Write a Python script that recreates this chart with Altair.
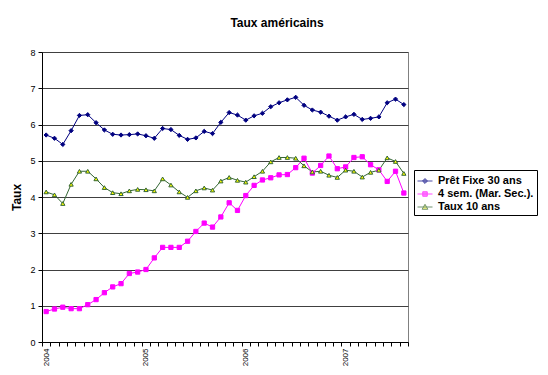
import altair as alt
import pandas as pd

mois = [f"{y}-{m:02d}" for y in range(2004, 2008) for m in range(1, 13)][:44]

series = ["Prêt Fixe 30 ans", "4 sem. (Mar. Sec.).", "Taux 10 ans"]

pret_30 = [5.71, 5.62, 5.45, 5.83, 6.25, 6.27, 6.05, 5.85, 5.73, 5.71,
           5.72, 5.74, 5.69, 5.62, 5.89, 5.86, 5.70, 5.59, 5.63, 5.81,
           5.75, 6.06, 6.33, 6.26, 6.12, 6.24, 6.31, 6.49, 6.60, 6.68,
           6.75, 6.53, 6.40, 6.34, 6.23, 6.12, 6.21, 6.28, 6.14, 6.17,
           6.21, 6.60, 6.70, 6.55]
sem_4 = [0.84, 0.91, 0.96, 0.92, 0.92, 1.03, 1.17, 1.36, 1.52, 1.61,
         1.89, 1.93, 2.00, 2.32, 2.61, 2.61, 2.61, 2.78, 3.05, 3.28,
         3.17, 3.45, 3.84, 3.63, 4.04, 4.32, 4.47, 4.53, 4.61, 4.62,
         4.81, 5.07, 4.66, 4.87, 5.13, 4.78, 4.83, 5.09, 5.11, 4.89,
         4.75, 4.43, 4.71, 4.11]
taux_10 = [4.14, 4.06, 3.82, 4.35, 4.71, 4.71, 4.50, 4.26, 4.12, 4.09,
           4.17, 4.21, 4.20, 4.17, 4.50, 4.33, 4.14, 3.99, 4.17, 4.25,
           4.19, 4.44, 4.54, 4.46, 4.41, 4.56, 4.71, 4.97, 5.09, 5.09,
           5.07, 4.86, 4.69, 4.71, 4.60, 4.54, 4.74, 4.71, 4.55, 4.68,
           4.74, 5.08, 4.98, 4.65]

rows = []
for name, vals in zip(series, [pret_30, sem_4, taux_10]):
    for i, v in enumerate(vals):
        rows.append({"idx": i, "mois": mois[i], "serie": name, "taux": v})
df = pd.DataFrame(rows)

line_colors = ["#000080", "#ff00ff", "#336633"]
fill_colors = ["#000080", "#ff00ff", "#ffff00"]
stroke_colors = ["#000080", "#ff00ff", "#336633"]

FONT = "Liberation Sans"

x_enc = alt.X(
    "idx:Q",
    scale=alt.Scale(domain=[-0.5, 43.5], nice=False, zero=False),
    axis=alt.Axis(
        values=[i - 0.5 for i in range(45)],
        labelExpr="(datum.value + 0.5) % 12 == 0 ? toString(2004 + (datum.value + 0.5) / 12) : ''",
        labelAngle=-90,
        labelOffset=4,
        labelFlush=False,
        labelOverlap=False,
        labelBound=False,
        grid=False,
        tickSize=4,
        tickColor="black",
        domainColor="black",
        labelFontSize=8,
        labelColor="black",
        labelPadding=2,
        title=None,
    ),
)
y_enc = alt.Y(
    "taux:Q",
    scale=alt.Scale(domain=[0, 8], nice=False),
    axis=alt.Axis(
        values=[0, 1, 2, 3, 4, 5, 6, 7, 8],
        labelOverlap=False,
        grid=True,
        gridColor="#404040",
        gridWidth=1,
        tickSize=4,
        tickColor="black",
        domainColor="black",
        labelFontSize=9,
        labelColor="black",
        labelPadding=3,
        title="Taux",
        titleFontSize=12,
        titleFontWeight="bold",
        titleColor="black",
        titlePadding=6,
    ),
)

base = alt.Chart(df)

lines = base.mark_line(strokeWidth=1).encode(
    x=x_enc,
    y=y_enc,
    color=alt.Color("serie:N", scale=alt.Scale(domain=series, range=line_colors), legend=None),
    detail="serie:N",
)

points = base.mark_point(filled=True, size=18, strokeWidth=1, opacity=1).encode(
    x=x_enc,
    y=y_enc,
    shape=alt.Shape("serie:N", scale=alt.Scale(domain=series, range=["diamond", "square", "triangle-up"]), legend=None),
    fill=alt.Fill("serie:N", scale=alt.Scale(domain=series, range=fill_colors), legend=None),
    stroke=alt.Stroke("serie:N", scale=alt.Scale(domain=series, range=stroke_colors), legend=None),
)

leg_paths = [
    "M-1,0H1M0,-0.33L0.33,0L0,0.33L-0.33,0Z",
    "M-1,0H1M-0.3,-0.3H0.3V0.3H-0.3Z",
    "M-1,0H1M0,-0.36L0.38,0.3H-0.38Z",
]
leg = alt.Legend(title=None, orient="none", legendX=372, legendY=118)
legend_layer = base.transform_filter("false").mark_point(filled=True, strokeWidth=1).encode(
    x=x_enc,
    y=y_enc,
    shape=alt.Shape("serie:N", scale=alt.Scale(domain=series, range=leg_paths), legend=leg),
    fill=alt.Fill("serie:N", scale=alt.Scale(domain=series, range=fill_colors), legend=leg),
    stroke=alt.Stroke("serie:N", scale=alt.Scale(domain=series, range=stroke_colors), legend=leg),
)

chart = (
    alt.layer(lines, points, legend_layer)
    .resolve_scale(shape="independent", fill="independent", stroke="independent")
    .properties(
        width=366,
        height=290,
        autosize="none",
        padding={"left": 34, "top": 44, "right": 132, "bottom": 31},
        title=alt.TitleParams(
            "Taux américains",
            fontSize=12,
            fontWeight="bold",
            font=FONT,
            color="black",
            anchor="middle",
            dx=52,
            offset=18,
        ),
    )
    .configure(background="white")
    .configure_view(stroke="#808080", strokeWidth=1)
    .configure_axis(labelFont=FONT, titleFont=FONT)
    .configure_legend(
        labelFont=FONT,
        labelFontSize=11,
        labelFontWeight="bold",
        labelColor="black",
        strokeColor="black",
        fillColor="white",
        padding=3,
        symbolSize=225,
        symbolStrokeWidth=1,
        rowPadding=0,
        labelOffset=5,
    )
)

chart.save("out.html", embed_options={"renderer": "svg", "actions": False})
